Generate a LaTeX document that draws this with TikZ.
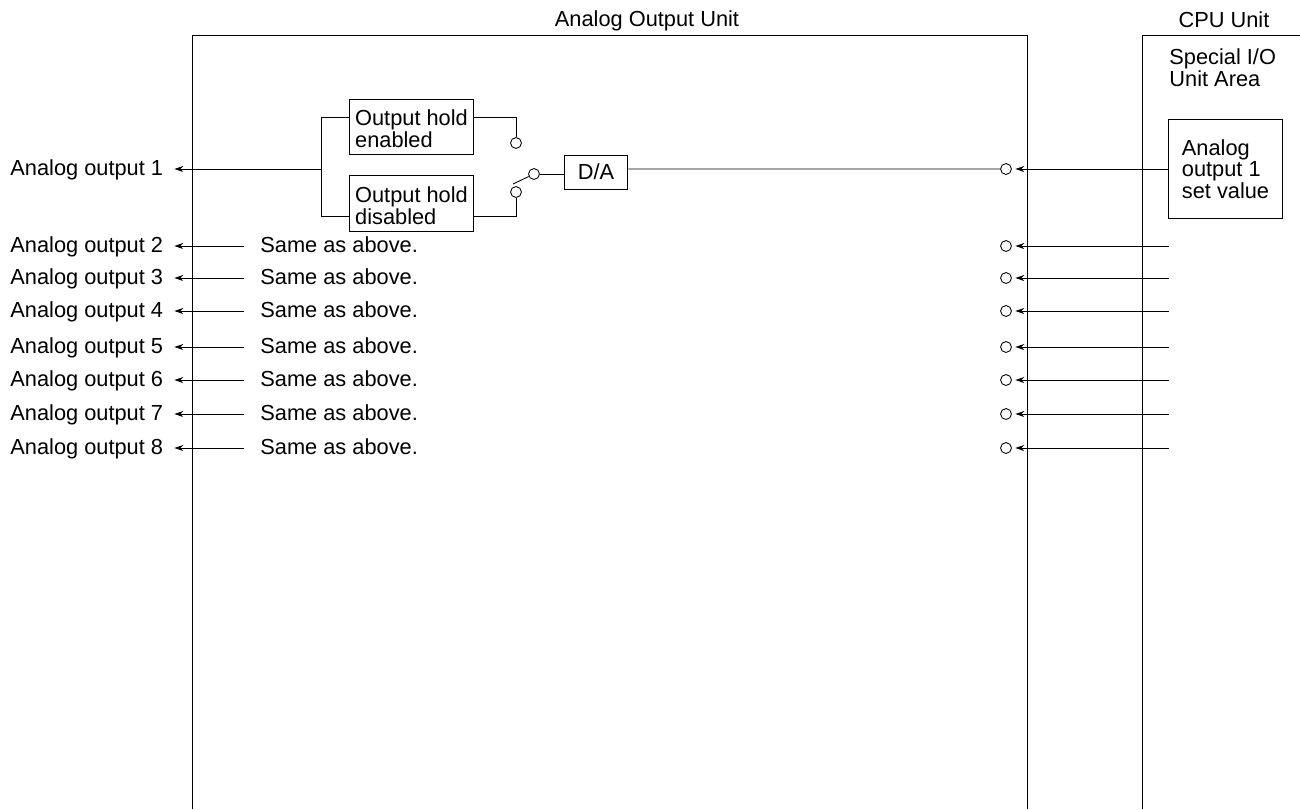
\documentclass[tikz,border=0pt]{standalone}
\usepackage{fontspec}
\setmainfont{Liberation Sans}
\usetikzlibrary{arrows.meta}
\newcommand{\holdstrut}{\rule{0pt}{0.9em}}

\begin{document}
\begin{tikzpicture}[>={Stealth[length=5pt,width=3.4pt]}, x=0.02cm, y=-0.02cm, line width=0.5pt,
    txt/.style={inner sep=0pt, font=\fontsize{12.4}{12.4}\selectfont},
    lbl/.style={txt, anchor=west, text height=1em, text depth=0.21em},
    blockbox/.style={txt, draw, align=left},
    holdbox/.style={blockbox, minimum width=71pt},
    contact/.style={circle, draw, inner sep=0pt, minimum size=6.2pt},
    feed/.style={->, shorten >=2pt},
    drive/.style={->, shorten >=6.2pt, shorten <=9pt}]
  \useasboundingbox (0,0) rectangle (1300,809);

  \draw (192,809) |- (1027,35) -- (1027,809);
  \draw (1300,35) -| (1142,809);
  \node[txt] (aounit) at (647,21) {Analog Output Unit};
  \node[txt] (cpuunit) at (1224,20) {CPU Unit};
  \node[txt, align=left, anchor=north west] (area) at (1169,48.5) {Special I/O\\Unit Area};

  \node[holdbox, minimum height=31.7pt] (holdon) at (411.5,127) {\holdstrut Output hold\\enabled};
  \node[holdbox, minimum height=32.3pt] (holdoff) at (411.5,203.5) {\holdstrut Output hold\\disabled};
  \node[blockbox, minimum width=36.3pt, minimum height=19.3pt] (da) at (596,172) {D/A};
  \node[blockbox, minimum width=65.2pt, minimum height=56.7pt] (setvalue) at (1225.5,169) {Analog\\output 1\\set value};

  \node[contact] (contactup) at (516,143) {};
  \node[contact] (contactdown) at (516,192) {};
  \node[contact] (pivot) at (534,174) {};
  \node[contact] (in1) at (1006,169) {};
  \coordinate (fork) at (321,169);
  \coordinate (leverend) at (513,184);
  \node[lbl] (out1) at (10,169) {Analog output 1};

  \draw ([yshift=5.7pt]holdon.west) -| (fork);
  \draw ([yshift=-7.6pt]holdoff.west) -| (fork);
  \draw ([yshift=5.7pt]holdon.east) -| (contactup);
  \draw ([yshift=-7.6pt]holdoff.east) -| (contactdown);
  \draw (pivot) -- (leverend);
  \draw (pivot) -- (pivot -| da.west);
  \draw ([yshift=1.7pt]da.east) -- (in1);
  \draw[feed] (setvalue) -- (in1);
  \draw[->, shorten >=6.2pt] (fork) -- (out1.east);

  \node[lbl] (out2) at (10,246) {Analog output 2};
  \node[lbl] (same2) at (260,246) {Same as above.};
  \node[contact] (in2) at (1006,246) {};
  \coordinate (src2) at (1169,246);
  \draw[drive] (same2.west) -- (out2.east);
  \draw[feed] (src2) -- (in2);

  \node[lbl] (out3) at (10,278) {Analog output 3};
  \node[lbl] (same3) at (260,278) {Same as above.};
  \node[contact] (in3) at (1006,278) {};
  \coordinate (src3) at (1169,278);
  \draw[drive] (same3.west) -- (out3.east);
  \draw[feed] (src3) -- (in3);

  \node[lbl] (out4) at (10,311) {Analog output 4};
  \node[lbl] (same4) at (260,311) {Same as above.};
  \node[contact] (in4) at (1006,311) {};
  \coordinate (src4) at (1169,311);
  \draw[drive] (same4.west) -- (out4.east);
  \draw[feed] (src4) -- (in4);

  \node[lbl] (out5) at (10,347) {Analog output 5};
  \node[lbl] (same5) at (260,347) {Same as above.};
  \node[contact] (in5) at (1006,347) {};
  \coordinate (src5) at (1169,347);
  \draw[drive] (same5.west) -- (out5.east);
  \draw[feed] (src5) -- (in5);

  \node[lbl] (out6) at (10,380) {Analog output 6};
  \node[lbl] (same6) at (260,380) {Same as above.};
  \node[contact] (in6) at (1006,380) {};
  \coordinate (src6) at (1169,380);
  \draw[drive] (same6.west) -- (out6.east);
  \draw[feed] (src6) -- (in6);

  \node[lbl] (out7) at (10,414) {Analog output 7};
  \node[lbl] (same7) at (260,414) {Same as above.};
  \node[contact] (in7) at (1006,414) {};
  \coordinate (src7) at (1169,414);
  \draw[drive] (same7.west) -- (out7.east);
  \draw[feed] (src7) -- (in7);

  \node[lbl] (out8) at (10,448) {Analog output 8};
  \node[lbl] (same8) at (260,448) {Same as above.};
  \node[contact] (in8) at (1006,448) {};
  \coordinate (src8) at (1169,448);
  \draw[drive] (same8.west) -- (out8.east);
  \draw[feed] (src8) -- (in8);
\end{tikzpicture}
\end{document}
